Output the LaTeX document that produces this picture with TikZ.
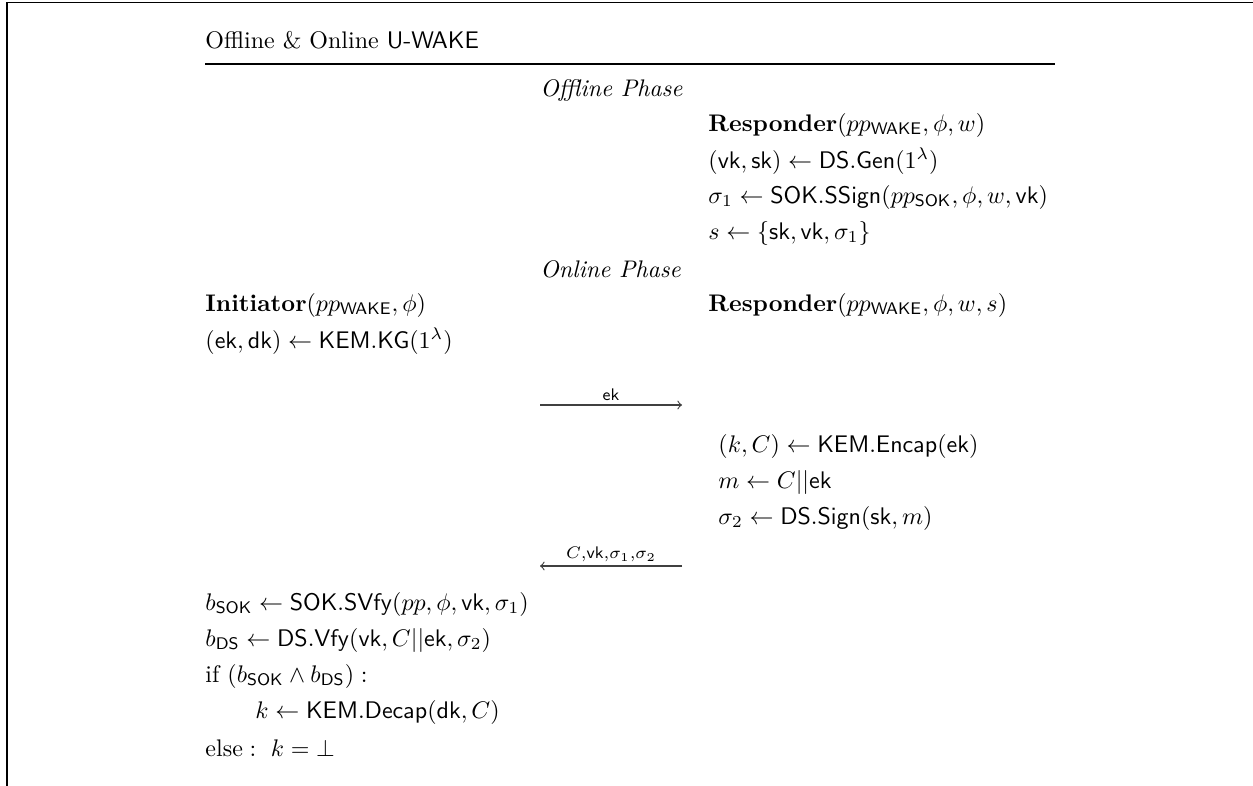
\documentclass[tikz,border=0pt]{standalone}
\usepackage{amsmath,amssymb}
\newcommand{\ms}[1]{\mathsf{#1}}
\begin{document}
\begin{tikzpicture}[x=0.41667pt,y=-0.41667pt,
  txt/.style={anchor=west,inner sep=0pt},
  msg/.style={->,line width=0.45pt,draw=black!75},
  lbl/.style={font=\scriptsize,inner sep=1.5pt,above}]
\useasboundingbox (0,0) rectangle (1253,786);
\draw[line width=0.8pt] (7,786) -- (7,2.5) -- (1253,2.5);
\node[txt] (title) at (205,40) {Offline \& Online \textsf{U-WAKE}};
\draw[line width=0.45pt] (205,64) -- (1055,64);
\node[txt] (off) at (540,90) {\emph{Offline Phase}};
\node[txt] (r1) at (708,125) {$\textbf{Responder}(pp_{\ms{WAKE}},\phi,w)$};
\node[txt] (r2) at (708,161) {$(\ms{vk},\ms{sk})\leftarrow \ms{DS.Gen}(1^\lambda)$};
\node[txt] (r3) at (708,197) {$\sigma_1\leftarrow \ms{SOK.SSign}(pp_{\ms{SOK}},\phi,w,\ms{vk})$};
\node[txt] (r4) at (708,233) {$s\leftarrow \{\ms{sk},\ms{vk},\sigma_1\}$};
\node[txt] (on) at (540,269) {\emph{Online Phase}};
\node[txt] (i1) at (205,305) {$\textbf{Initiator}(pp_{\ms{WAKE}},\phi)$};
\node[txt] (q1) at (708,305) {$\textbf{Responder}(pp_{\ms{WAKE}},\phi,w,s)$};
\node[txt] (i2) at (205,341) {$(\ms{ek},\ms{dk})\leftarrow \ms{KEM.KG}(1^\lambda)$};
\coordinate (a1s) at (540,405);
\coordinate (a1e) at (682,405);
\draw[msg] (a1s) -- node[lbl] (l1) {$\ms{ek}$} (a1e);
\node[txt] (q2) at (718,446) {$(k,C)\leftarrow \ms{KEM.Encap}(\ms{ek})$};
\node[txt] (q3) at (718,482) {$m\leftarrow C||\ms{ek}$};
\node[txt] (q4) at (718,518) {$\sigma_2\leftarrow \ms{DS.Sign}(\ms{sk},m)$};
\coordinate (a2s) at (682,566);
\coordinate (a2e) at (540,566);
\draw[msg] (a2s) -- node[lbl] (l2) {$C{,}\ms{vk}{,}\sigma_1{,}\sigma_2$} (a2e);
\node[txt] (i3) at (205,604) {$b_{\ms{SOK}}\leftarrow \ms{SOK.SVfy}(pp,\phi,\ms{vk},\sigma_1)$};
\node[txt] (i4) at (205,640) {$b_{\ms{DS}}\leftarrow \ms{DS.Vfy}(\ms{vk},C||\ms{ek},\sigma_2)$};
\node[txt] (i5) at (205,676) {$\text{if }(b_{\ms{SOK}}\wedge b_{\ms{DS}}):$};
\node[txt] (i6) at (255,712) {$k\leftarrow \ms{KEM.Decap}(\ms{dk},C)$};
\node[txt] (i7) at (205,748) {$\text{else}:\ k=\bot$};
\end{tikzpicture}
\end{document}
